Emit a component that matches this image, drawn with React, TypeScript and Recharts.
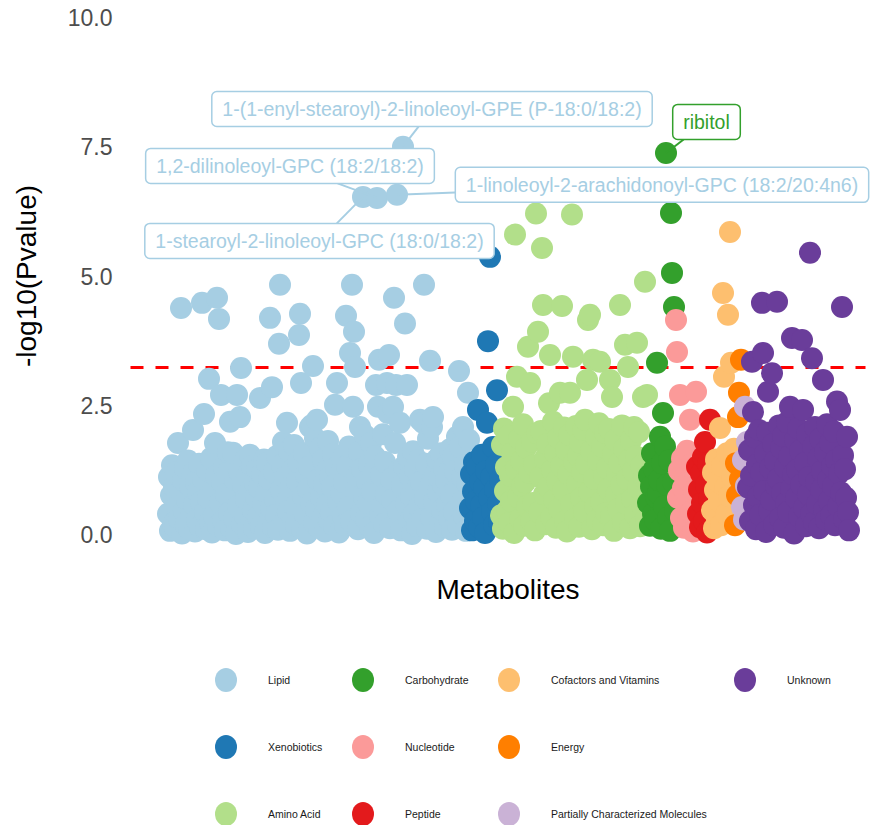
import React from "react";
import { ReferenceLine, Scatter, ScatterChart, XAxis, YAxis } from "recharts";

// -log10(p) per metabolite, in super-pathway order
const lipid = [
  0.41, 1.12, 0.08, 0.77, 1.35, 0.22, 0.93, 0.15, 1.21, 0.54,
  1.78, 0.31, 0.86, 4.39, 0.03, 1.06, 0.47, 1.29, 0.19, 0.68,
  1.44, 0.12, 0.95, 0.36, 1.17, 2.03, 0.58, 0.07, 1.02, 0.29,
  0.83, 1.38, 0.16, 0.64, 4.49, 1.09, 2.34, 0.45, 0.11, 1.26,
  0.71, 3.02, 0.25, 1.49, 0.05, 0.92, 0.38, 1.78, 1.14, 4.59,
  0.18, 4.18, 0.62, 2.71, 1.03, 0.27, 1.31, 0.09, 0.79, 1.19,
  1.6, 0.43, 2.19, 0.14, 0.88, 1.59, 0.33, 1.07, 0.02, 2.71,
  0.56, 1.24, 2.28, 3.23, 0.21, 0.97, 1.42, 0.37, 0.69, 1.15,
  0.06, 0.84, 1.55, 0.28, 1.33, 0.48, 0.13, 1.01, 0.74, 1.27,
  0.35, 0.91, 2.65, 0.17, 1.18, 0.6, 1.46, 0.04, 0.82, 1.39,
  0.24, 1.08, 4.2, 0.52, 2.86, 0.15, 1.22, 0.7, 0.39, 1.53,
  0.1, 3.7, 4.84, 0.87, 1.36, 1.8, 0.26, 1.11, 0.63, 2.17,
  0.46, 1.63, 0.08, 0.94, 1.25, 0.32, 1.74, 0.55, 0.19, 1.04,
  1.41, 3.87, 4.28, 2.94, 0.12, 0.76, 1.58, 0.4, 1.16, 0.03,
  0.89, 1.32, 2.09, 0.61, 2.13, 3.27, 0.23, 1.87, 0.5, 2.23,
  1.07, 0.14, 1.69, 0.73, 0.34, 1.45, 0.98, 0.07, 1.23, 0.58,
  1.82, 0.29, 1.12, 0.44, 0.93, 1.56, 0.18, 2.52, 1.3, 2.94,
  0.66, 0.05, 1.19, 0.81, 1.48, 0.37, 1.02, 0.2, 4.24, 1.34,
  0.53, 1.71, 3.52, 0.27, 4.84, 2.48, 3.93, 3.25, 0.9, 1.15,
  0.11, 1.6, 2.09, 0.42, 1.28, 6.54, 0.74, 1.93, 0.31, 1.05,
  0.62, 1.37, 0.16, 1.78, 0.85, 1.21, 0.04, 1.52, 2.9, 6.52,
  2.48, 3.39, 0.38, 1.16, 0.57, 1.95, 0.22, 1.41, 0.79, 2.94,
  2.36, 3.48, 0.13, 1.09, 0.68, 2.48, 4.59, 1.78, 2.9, 6.58,
  0.47, 1.25, 2.17, 0.09, 0.96, 7.51, 1.33, 4.09, 0.6, 2.9,
  1.51, 0.26, 1.14, 0.75, 0.02, 1.62, 0.41, 1.27, 0.88, 0.17,
  1.44, 0.54, 2.23, 1.03, 0.3, 2.17, 4.84, 0.71, 1.38, 0.12,
  1.86, 0.92, 3.37, 0.35, 2.09, 2.28, 0.64, 1.19, 0.06, 1.47,
  0.83, 1.11, 0.24, 1.58, 0.49, 0.97, 1.3, 0.15, 1.07, 0.58,
  1.21, 0.33, 1.66, 0.78, 0.1, 1.51, 0.45, 1.24, 0.86, 1.9,
  0.2, 3.17, 1.7, 0.63, 1.12, 2.09, 0.37, 1.35, 0.08, 1.01,
  2.75, 1.84,
];
const xenobiotics = [
  0.52, 1.18, 0.09, 0.84, 1.41, 0.27, 0.66, 1.32, 2.42, 0.15,
  1.03, 0.58, 1.55, 0.34, 0.92, 0.04, 1.24, 2.17, 3.75, 0.71,
  5.38, 1.12, 0.45, 1.7, 0.19, 0.88, 1.36, 2.8, 0.61, 0.26,
  1.07,
];
const aminoAcid = [
  0.38, 1.74, 0.12, 2.06, 0.85, 1.31, 0.47, 1.92, 0.23, 1.15,
  0.66, 1.58, 2.48, 0.04, 5.81, 1.27, 3.06, 0.73, 1.86, 0.31,
  1.43, 0.95, 2.14, 0.18, 1.02, 1.69, 0.56, 3.64, 1.21, 2.94,
  0.27, 1.81, 0.62, 1.35, 0.09, 6.22, 1.97, 3.93, 0.44, 1.12,
  2.01, 5.55, 4.45, 0.79, 1.48, 0.21, 1.76, 0.93, 2.55, 3.48,
  0.35, 1.26, 2.19, 0.68, 1.59, 0.14, 1.04, 1.88, 0.51, 2.75,
  1.33, 4.43, 0.87, 2.08, 0.26, 1.65, 0.07, 1.18, 1.94, 2.75,
  0.59, 6.2, 3.45, 1.41, 0.32, 2.11, 0.98, 1.53, 0.16, 1.79,
  0.72, 1.22, 2.03, 0.45, 2.23, 1.37, 3.0, 4.16, 0.83, 4.26,
  1.62, 0.11, 3.39, 1.09, 0.54, 1.9, 0.28, 1.44, 2.16, 3.35,
  0.64, 1.71, 0.19, 1.13, 1.98, 0.42, 1.29, 0.89, 2.05, 3.0,
  0.36, 2.67, 1.56, 0.08, 1.84, 0.77, 1.17, 0.5, 1.39, 4.45,
  0.96, 2.12, 0.24, 1.67, 3.68, 0.61, 1.08, 3.25, 1.45, 0.13,
  1.83, 0.7, 1.24, 2.09, 0.39, 1.52, 3.72, 0.92, 1.99, 0.17,
  1.34, 0.57, 2.67, 1.11, 4.9, 0.3, 2.71,
];
const carbohydrate = [
  0.62, 1.15, 0.18, 0.94, 1.58, 0.41, 1.27, 0.29, 0.73, 3.33,
  0.81, 1.06, 1.9, 0.12, 1.39, 2.36, 0.55, 1.71, 7.39, 0.97,
  0.34, 1.44, 0.08, 6.23, 5.07, 1.02, 4.41, 0.47,
];
const nucleotide = [4.16, 3.54, 0.72, 1.25, 2.71, 0.33, 1.48, 0.91, 0.14, 1.12, 0.58, 1.63, 0.26, 1.04, 2.23, 0.45, 1.37, 0.07, 0.86, 1.21, 2.77];
const peptide = [1.32, 0.41, 0.88, 0.15, 1.19, 0.62, 1.51, 0.27, 1.8, 0.96, 0.05, 1.38, 0.7, 2.23, 0.36];
const cofactors = [0.48, 1.21, 0.13, 0.87, 1.46, 0.31, 1.05, 0.66, 2.07, 0.19, 1.33, 4.68, 3.06, 0.92, 0.4, 1.58, 4.26, 0.75, 5.86, 3.33, 1.12, 0.24, 1.67];
const energy = [0.19, 1.39, 0.77, 2.28, 2.75, 1.08, 3.39];
const partial = [0.54, 1.45, 0.3, 2.48, 0.95, 1.8];
const unknown = [
  0.92, 1.64, 0.27, 1.15, 3.35, 2.38, 0.58, 1.89, 0.11, 1.36,
  0.74, 2.03, 0.39, 1.21, 4.49, 3.52, 0.85, 1.57, 0.06, 1.98,
  2.77, 0.47, 1.29, 0.68, 3.13, 1.76, 0.2, 1.43, 0.95, 4.51,
  1.08, 2.12, 0.33, 1.69, 0.81, 1.92, 0.14, 1.31, 0.62, 2.18,
  0.45, 1.52, 2.48, 0.9, 3.81, 1.17, 0.03, 1.84, 0.71, 1.26,
  2.06, 0.36, 1.63, 0.97, 3.77, 2.42, 0.52, 1.39, 0.17, 1.95,
  0.79, 1.12, 5.46, 0.41, 3.42, 1.71, 0.24, 2.09, 1.02, 0.6,
  1.48, 0.13, 1.86, 0.88, 1.24, 3.0, 0.49, 1.6, 0.29, 2.14,
  1.07, 0.66, 1.78, 0.38, 1.33, 0.94, 2.0, 0.19, 1.45, 2.58,
  0.56, 1.19, 2.42, 0.82, 4.41, 1.54, 0.31, 1.27, 0.72, 1.9,
  0.44, 0.09,
];

const categories = [
  "Lipid",
  "Xenobiotics",
  "Amino Acid",
  "Carbohydrate",
  "Nucleotide",
  "Peptide",
  "Cofactors and Vitamins",
  "Energy",
  "Partially Characterized Molecules",
  "Unknown",
];
const categoryValues = [lipid, xenobiotics, aminoAcid, carbohydrate, nucleotide, peptide, cofactors, energy, partial, unknown];

// named hits: position within their own category
const hits = [
  { name: "1-stearoyl-2-linoleoyl-GPC (18:0/18:2)", category: "Lipid", pos: 195 },
  { name: "1,2-dilinoleoyl-GPC (18:2/18:2)", category: "Lipid", pos: 209 },
  { name: "1-linoleoyl-2-arachidonoyl-GPC (18:2/20:4n6)", category: "Lipid", pos: 229 },
  { name: "1-(1-enyl-stearoyl)-2-linoleoyl-GPE (P-18:0/18:2)", category: "Lipid", pos: 235 },
  { name: "ribitol", category: "Carbohydrate", pos: 18 },
];

const yTicks = [0, 2.5, 5, 7.5, 10];
const threshold = 3.24;

const palette: Record<string, string> = {
  Lipid: "#A6CEE3",
  Xenobiotics: "#1F78B4",
  "Amino Acid": "#B2DF8A",
  Carbohydrate: "#33A02C",
  Nucleotide: "#FB9A99",
  Peptide: "#E31A1C",
  "Cofactors and Vitamins": "#FDBF6F",
  Energy: "#FF7F00",
  "Partially Characterized Molecules": "#CAB2D6",
  Unknown: "#6A3D9A",
};

// label box nudges (px from the point)
const labelNudge: Record<string, [number, number]> = {
  "1-stearoyl-2-linoleoyl-GPC (18:0/18:2)": [-43.5, 44],
  "1,2-dilinoleoyl-GPC (18:2/18:2)": [-87, -32],
  "1-linoleoyl-2-arachidonoyl-GPC (18:2/20:4n6)": [265, -10],
  "1-(1-enyl-stearoyl)-2-linoleoyl-GPE (P-18:0/18:2)": [29, -37.7],
  ribitol: [40.5, -31],
};

const FONT = '"Liberation Sans", Arial, Helvetica, sans-serif';
const LABEL_FONT = `19.5px ${FONT}`;

const starts: number[] = [];
categoryValues.reduce((acc, vals) => {
  starts.push(acc);
  return acc + vals.length;
}, 0);

const series = categories.map((category, k) => ({
  category,
  points: categoryValues[k].map((y, i) => ({ x: starts[k] + i, y })),
}));

const hitPoints = hits.map((h) => {
  const k = categories.indexOf(h.category);
  return { x: starts[k] + h.pos, y: categoryValues[k][h.pos], name: h.name, category: h.category };
});

let measureCtx: CanvasRenderingContext2D | null = null;
function textWidth(t: string) {
  if (!measureCtx) measureCtx = document.createElement("canvas").getContext("2d");
  if (!measureCtx) return t.length * 9.5;
  measureCtx.font = LABEL_FONT;
  return measureCtx.measureText(t).width;
}

function HitLabel(props: any) {
  const { cx, cy, payload } = props;
  if (cx == null || cy == null) return null;
  const color = palette[payload.category];
  const [dx, dy] = labelNudge[payload.name] || [0, -30];
  const w = textWidth(payload.name) + 21;
  const h = 35;
  const bx = cx + dx;
  const by = cy + dy;
  // segment runs from the point toward the box centre and stops on its edge
  const vx = cx - bx;
  const vy = cy - by;
  const s = Math.min(vx ? w / 2 / Math.abs(vx) : Infinity, vy ? h / 2 / Math.abs(vy) : Infinity);
  const ex = bx + vx * Math.min(s, 1);
  const ey = by + vy * Math.min(s, 1);
  const showSegment = Math.hypot(ex - cx, ey - cy) > 16;
  return (
    <g>
      {showSegment && <line x1={cx} y1={cy} x2={ex} y2={ey} stroke={color} strokeWidth={2} />}
      <rect x={bx - w / 2} y={by - h / 2} width={w} height={h} rx={5} fill="#FFFFFF" stroke={color} strokeWidth={1.5} />
      <text x={bx} y={by} textAnchor="middle" dominantBaseline="central" fill={color} style={{ font: LABEL_FONT }}>
        {payload.name}
      </text>
    </g>
  );
}

const legendColX = [226, 363, 509, 745];
const legendRowY = [680, 747, 814];

export default function App() {
  return (
    <div style={{ position: "absolute", left: 0, top: 0, width: 872, height: 825, background: "#FFFFFF", fontFamily: FONT }}>
      <ScatterChart width={872} height={560} margin={{ top: 18, right: 6.5, bottom: 25, left: 70.5 }}>
        <XAxis type="number" dataKey="x" domain={[-37.5, 697.5]} hide />
        <YAxis
          type="number"
          dataKey="y"
          domain={[0, 10]}
          ticks={yTicks}
          interval={0}
          tickFormatter={(v: number) => v.toFixed(1)}
          width={60}
          axisLine={false}
          tickLine={false}
          tickSize={0}
          tickMargin={18}
          tick={{ fill: "#4D4D4D", fontSize: 23, fontFamily: FONT }}
        />
        {series.map((s) => (
          <Scatter
            key={s.category}
            name={s.category}
            data={s.points}
            isAnimationActive={false}
            shape={(p: any) => <circle cx={p.cx} cy={p.cy} r={11} fill={palette[s.category]} />}
          />
        ))}
        <ReferenceLine y={threshold} stroke="#FF0000" strokeWidth={3} strokeDasharray="13 12" />
        <Scatter data={hitPoints} isAnimationActive={false} shape={HitLabel} />
      </ScatterChart>

      <div
        style={{
          position: "absolute",
          left: 27,
          top: 276,
          transform: "translate(-50%, -50%) rotate(-90deg)",
          whiteSpace: "nowrap",
          fontSize: 28,
          color: "#000000",
        }}
      >
        -log10(Pvalue)
      </div>
      <div
        style={{
          position: "absolute",
          left: 508,
          top: 590,
          transform: "translate(-50%, -50%)",
          whiteSpace: "nowrap",
          fontSize: 28,
          color: "#000000",
        }}
      >
        Metabolites
      </div>

      {categories.map((c, k) => {
        const col = Math.floor(k / 3);
        const row = k % 3;
        return (
          <React.Fragment key={c}>
            <div
              style={{
                position: "absolute",
                left: legendColX[col] - 11,
                top: legendRowY[row] - 12,
                width: 22,
                height: 24,
                borderRadius: "50%",
                background: palette[c],
              }}
            />
            <div
              style={{
                position: "absolute",
                left: legendColX[col] + 42,
                top: legendRowY[row],
                transform: "translateY(-50%)",
                whiteSpace: "nowrap",
                fontSize: 10.5,
                color: "#1A1A1A",
              }}
            >
              {c}
            </div>
          </React.Fragment>
        );
      })}
    </div>
  );
}
